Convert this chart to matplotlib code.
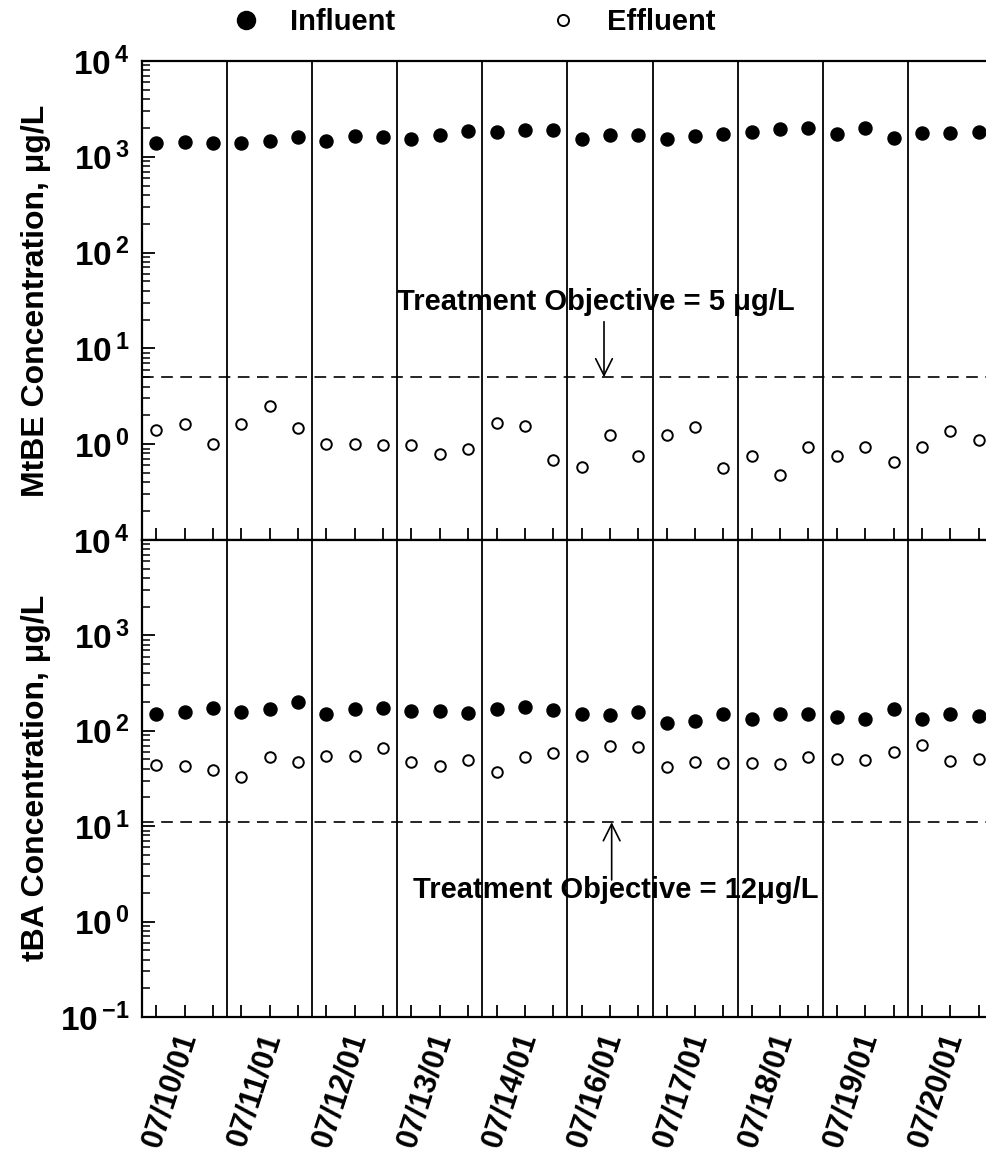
import math
import matplotlib
matplotlib.use('Agg')
import matplotlib.pyplot as plt
from matplotlib.lines import Line2D
from matplotlib.ticker import FixedLocator, LogLocator, FuncFormatter, NullFormatter

plt.rcParams['font.family'] = ['Liberation Sans', 'DejaVu Sans']
plt.rcParams['font.weight'] = 'bold'
plt.rcParams['mathtext.fontset'] = 'custom'
plt.rcParams['mathtext.rm'] = 'Liberation Sans:bold'
plt.rcParams['mathtext.bf'] = 'Liberation Sans:bold'
plt.rcParams['mathtext.default'] = 'rm'

# sampling days, three samples a day
days = ['07/10/01', '07/11/01', '07/12/01', '07/13/01', '07/14/01',
        '07/16/01', '07/17/01', '07/18/01', '07/19/01', '07/20/01']
sample_offsets = [1 / 6, 1 / 2, 5 / 6]

# MtBE, ug/L
mtbe_influent = [1380, 1440, 1380, 1380, 1470, 1620, 1470, 1650, 1600, 1520,
                 1690, 1870, 1830, 1900, 1900, 1520, 1690, 1690, 1520, 1660,
                 1730, 1800, 1940, 2010, 1720, 1980, 1560, 1790, 1790, 1830]
mtbe_effluent = [1.41, 1.61, 1.0, 1.61, 2.5, 1.49, 1.0, 1.0, 0.98, 0.98,
                 0.79, 0.89, 1.66, 1.55, 0.68, 0.58, 1.25, 0.76, 1.25, 1.52,
                 0.57, 0.76, 0.48, 0.94, 0.75, 0.93, 0.65, 0.93, 1.38, 1.11]

# tBA, ug/L
tba_influent = [149, 157, 175, 158, 168, 200, 149, 171, 175, 162,
                162, 152, 169, 178, 165, 149, 146, 158, 122, 128,
                149, 133, 149, 150, 138, 132, 168, 133, 149, 144]
tba_effluent = [43.8, 42.8, 38.8, 32.6, 53.5, 46.8, 54.8, 54.5, 65.6, 46.8,
                42.8, 49.4, 37.2, 53.5, 58.9, 54.5, 69.8, 67.1, 41.4, 46.8,
                45.6, 45.6, 44.6, 52.7, 50.6, 49.4, 60.4, 71.0, 48.6, 50.2]

mtbe_objective = 5
tba_objective = 11

x = [d + f for d in range(len(days)) for f in sample_offsets]
decades = [0.1, 1, 10, 100, 1000, 10000]


def dec_label(v, pos, skip_bottom=False):
    if skip_bottom and v < 0.5:
        return ''
    e = int(round(math.log10(v)))
    if e < 0:
        return r'$10^{\,{-}%d}$' % (-e)
    return r'$10^{\,%d}$' % e


fig = plt.figure(figsize=(9.87, 11.6), dpi=100)
ax1 = fig.add_axes([0.1439, 0.5345, 0.862, 0.4129])
ax2 = fig.add_axes([0.1439, 0.1233, 0.862, 0.4112])

for ax, inf, eff in [(ax1, mtbe_influent, mtbe_effluent), (ax2, tba_influent, tba_effluent)]:
    ax.set_yscale('log')
    ax.set_xlim(0, len(days))
    ax.set_ylim(0.1, 1e4)
    for d in range(1, len(days)):
        ax.axvline(d, color='black', lw=1.3, zorder=1)
    ax.plot(x, inf, 'o', color='black', ms=9.4, zorder=3)
    ax.plot(x, eff, 'o', mfc='white', mec='black', ms=7.6, mew=1.4, zorder=3)
    ax.spines['right'].set_visible(False)
    for s in ['left', 'bottom', 'top']:
        ax.spines[s].set_linewidth(1.6)
    ax.set_xticks(x)
    ax.tick_params(axis='x', direction='in', length=8.5, width=1.3,
                   top=False, bottom=True, labelbottom=False)
    ax.yaxis.set_major_locator(FixedLocator(decades))
    ax.yaxis.set_minor_locator(LogLocator(base=10, subs=range(2, 10), numticks=20))
    ax.yaxis.set_minor_formatter(NullFormatter())
    ax.tick_params(axis='y', which='major', direction='in', length=9, width=1.3,
                   labelsize=24, pad=9, right=False)
    ax.tick_params(axis='y', which='minor', direction='in', length=5.5, width=1.1,
                   right=False)

ax1.yaxis.set_major_formatter(FuncFormatter(lambda v, p: dec_label(v, p, True)))
ax2.yaxis.set_major_formatter(FuncFormatter(lambda v, p: dec_label(v, p, False)))

# treatment objectives
ax1.axhline(mtbe_objective, color='black', lw=1.2, dashes=(7, 4.5), zorder=2)
ax2.axhline(tba_objective, color='black', lw=1.2, dashes=(7, 4.5), zorder=2)
ax1.text(3.0, 30.5, 'Treatment Objective = 5 \u03bcg/L', fontsize=21,
         fontweight='bold', va='center', ha='left')
ax1.annotate('', xy=(5.43, mtbe_objective), xytext=(5.43, 19),
             arrowprops=dict(arrowstyle='->', lw=1.2, color='black',
                             mutation_scale=30, shrinkA=0, shrinkB=0))
ax2.text(3.18, 2.14, 'Treatment Objective = 12\u03bcg/L', fontsize=21,
         fontweight='bold', va='center', ha='left')
ax2.annotate('', xy=(5.52, tba_objective), xytext=(5.52, 2.73),
             arrowprops=dict(arrowstyle='->', lw=1.2, color='black',
                             mutation_scale=30, shrinkA=0, shrinkB=0))

# date labels
for i, lab in enumerate(days):
    ax2.text(i + 0.33, -0.153, lab, transform=ax2.get_xaxis_transform(),
             rotation=72, ha='center', va='center', rotation_mode='anchor',
             fontsize=22, fontweight='bold')

fig.text(0.036, 0.741, 'MtBE Concentration, \u03bcg/L', rotation=90,
         ha='center', va='center', fontsize=23, fontweight='bold')
fig.text(0.036, 0.329, 'tBA Concentration, \u03bcg/L', rotation=90,
         ha='center', va='center', fontsize=23, fontweight='bold')

handles = [Line2D([], [], ls='none', marker='o', color='black', ms=13, label='Influent'),
           Line2D([], [], ls='none', marker='o', mfc='white', mec='black', ms=8,
                  mew=1.4, label='Effluent')]
ax1.legend(handles=handles, loc='center left', bbox_to_anchor=(0.2346, 0.981),
           bbox_transform=fig.transFigure, ncol=2, frameon=False, borderpad=0,
           borderaxespad=0, handlelength=1.0, handletextpad=1.0,
           columnspacing=5.26, prop={'size': 21, 'weight': 'bold'})

fig.savefig('out.png', dpi=100)
